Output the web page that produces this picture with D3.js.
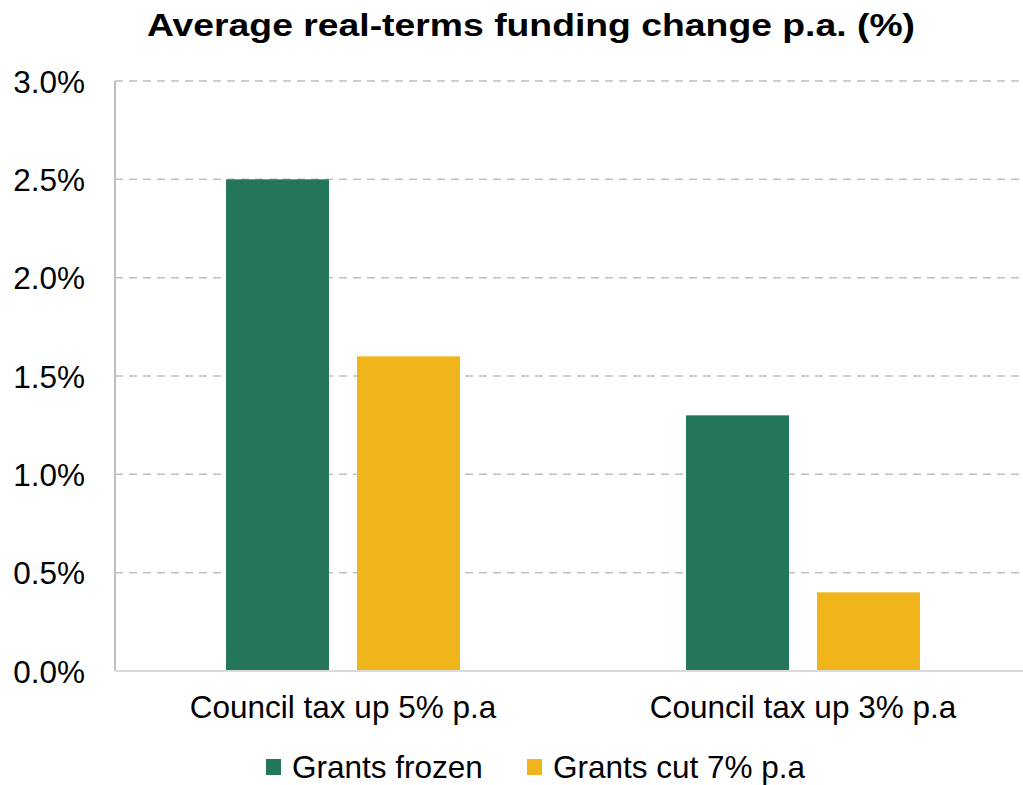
<!DOCTYPE html>
<html>
<head>
<meta charset="utf-8">
<script src="https://cdn.jsdelivr.net/npm/d3@7"></script>
<style>
  html, body { margin: 0; padding: 0; background: #fff; }
  svg { display: block; font-family: "Liberation Sans", Arial, sans-serif; }
</style>
</head>
<body>
<svg id="chart" width="1023" height="785"></svg>
<script>
// Scenario categories along the x axis
const categories = ["Council tax up 5% p.a", "Council tax up 3% p.a"];
// Series (grant assumptions) and their values, in percent
const seriesNames = ["Grants frozen", "Grants cut 7% p.a"];
const grantsFrozen = [2.5, 1.3];
const grantsCut = [1.6, 0.4];
const seriesValues = [grantsFrozen, grantsCut];
const yTicks = [0, 0.5, 1.0, 1.5, 2.0, 2.5, 3.0];
const colors = ["#237657", "#F0B51A"];

const svg = d3.select("#chart");
const plot = { left: 115, right: 1033, top: 81, bottom: 671 };
const labelSize = 31.5;

const x = d3.scaleBand().domain(categories).range([plot.left - 2, plot.right]).padding(0);
const xInner = d3.scaleBand().domain(seriesNames).range([0, x.bandwidth()])
  .paddingInner(0.214).paddingOuter(0.863);
const y = d3.scaleLinear().domain([0, 3]).range([plot.bottom, plot.top]);

// Dashed horizontal gridlines
svg.append("g").selectAll("line").data(yTicks.filter(d => d > 0)).join("line")
  .attr("x1", plot.left).attr("x2", 1023)
  .attr("y1", d => y(d)).attr("y2", d => y(d))
  .attr("stroke", "#bfbfbf").attr("stroke-width", 1.5)
  .attr("stroke-dasharray", "8,6");

// Bars
const rows = categories.map((c, i) => ({ c, vals: seriesNames.map((s, j) => ({ s, j, v: seriesValues[j][i] })) }));
svg.append("g").selectAll("g").data(rows).join("g")
  .attr("transform", d => `translate(${x(d.c)},0)`)
  .selectAll("rect").data(d => d.vals).join("rect")
  .attr("x", d => xInner(d.s)).attr("width", xInner.bandwidth())
  .attr("y", d => y(d.v)).attr("height", d => y(0) - y(d.v))
  .attr("fill", d => colors[d.j]);

// Y axis
const yAxis = svg.append("g").attr("transform", `translate(${plot.left},0)`)
  .call(d3.axisLeft(y).tickValues(yTicks).tickFormat(d => d.toFixed(1) + "%").tickSize(0).tickPadding(30));
yAxis.select(".domain").attr("stroke", "#bfbfbf").attr("stroke-width", 2)
  .attr("d", `M0,${plot.top}V${plot.bottom}`);
yAxis.selectAll("text").attr("font-size", labelSize).attr("fill", "#000")
  .attr("font-family", "Liberation Sans, Arial, sans-serif").attr("dy", "0.35em");

// X axis
const xAxis = svg.append("g").attr("transform", `translate(0,${plot.bottom})`)
  .call(d3.axisBottom(x).tickSize(0).tickPadding(25));
xAxis.select(".domain").attr("stroke", "#d9d9d9").attr("stroke-width", 2)
  .attr("d", `M${plot.left},0H1023`);
xAxis.selectAll("text").attr("font-size", labelSize).attr("fill", "#000")
  .attr("font-family", "Liberation Sans, Arial, sans-serif");

// Title
svg.append("text").attr("x", 531).attr("y", 36).attr("text-anchor", "middle")
  .attr("font-size", 32).attr("font-weight", "bold").attr("fill", "#000")
  .attr("textLength", 768).attr("lengthAdjust", "spacingAndGlyphs")
  .text("Average real-terms funding change p.a. (%)");

// Legend
const legendX = [266, 527];
const lg = svg.append("g").selectAll("g").data(seriesNames).join("g")
  .attr("transform", (d, i) => `translate(${legendX[i]},759)`);
lg.append("rect").attr("width", 15).attr("height", 16).attr("fill", (d, i) => colors[i]);
lg.append("text").attr("x", 26).attr("y", 19).attr("font-size", labelSize).attr("fill", "#000").text(d => d);
</script>
</body>
</html>
